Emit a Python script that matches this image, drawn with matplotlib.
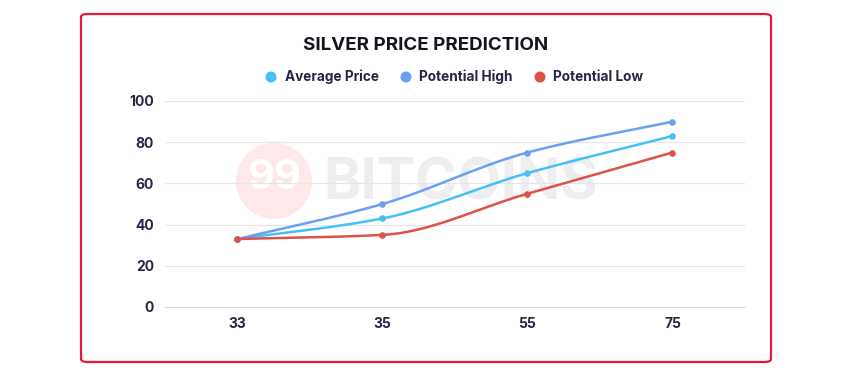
import numpy as np
import matplotlib
matplotlib.use("Agg")
import matplotlib.pyplot as plt
from matplotlib.patches import FancyBboxPatch, Ellipse

categories = ["33", "35", "55", "75"]
average_price = [33, 43, 65, 83]
potential_high = [33, 50, 75, 90]
potential_low = [33, 35, 55, 75]
y_ticks = [0, 20, 40, 60, 80, 100]

series = [
    ("Average Price", average_price, "#45c0f7"),
    ("Potential High", potential_high, "#6a9ff3"),
    ("Potential Low", potential_low, "#de5149"),
]

W, H = 853, 386

def monotone_curve(x, y, n=60):
    x = np.asarray(x, float); y = np.asarray(y, float)
    h = np.diff(x); d = np.diff(y) / h
    m = np.zeros_like(y)
    m[0] = d[0]; m[-1] = d[-1]
    for i in range(1, len(y) - 1):
        if d[i-1] * d[i] <= 0:
            m[i] = 0
        else:
            w1 = 2 * h[i] + h[i-1]; w2 = h[i] + 2 * h[i-1]
            m[i] = (w1 + w2) / (w1 / d[i-1] + w2 / d[i])
    xs, ys = [], []
    for i in range(len(x) - 1):
        t = np.linspace(0, 1, n)
        h00 = 2*t**3 - 3*t**2 + 1; h10 = t**3 - 2*t**2 + t
        h01 = -2*t**3 + 3*t**2; h11 = t**3 - t**2
        xs.append(x[i] + t * h[i])
        ys.append(h00*y[i] + h10*h[i]*m[i] + h01*y[i+1] + h11*h[i]*m[i+1])
    return np.concatenate(xs), np.concatenate(ys)

def circ(px, py, r, **kw):
    return Ellipse((px/W, 1-py/H), 2*r/W, 2*r/H, transform=fig.transFigure, **kw)

fig = plt.figure(figsize=(8.53, 3.86), dpi=100)
fig.patch.set_facecolor("white")

# border
border = FancyBboxPatch((81/W, 1-362/H), (771-81)/W, (362-14)/H,
                        boxstyle="round,pad=0,rounding_size=0.008",
                        transform=fig.transFigure, fill=False,
                        edgecolor="#e8173d", linewidth=1.6)
fig.patches.append(border)

ax = fig.add_axes([165/W, 1-307/H, 580/W, 206/H])
ax.set_zorder(2)
ax.set_xlim(-0.5, len(categories) - 0.5)
ax.set_ylim(0, 100)

# watermark
wm = circ(274, 181, 38, facecolor="#fde9e9", edgecolor="none", zorder=0.5)
fig.patches.append(wm)
fig.text(274/W, 1-178/H, "99", ha="center", va="center", fontsize=30,
         fontweight="bold", color="white", family="Inter", zorder=1)
fig.text(323/W, 1-185/H, "BITCOINS", ha="left", va="center", fontsize=41,
         fontweight="bold", color="#eeeef1", family="Inter", zorder=1)

xpos = np.arange(len(categories))
for name, vals, col in series:
    cx, cy = monotone_curve(xpos, vals)
    ax.plot(cx, cy, color=col, linewidth=1.8, zorder=3)
    ax.scatter(xpos, vals, color=col, s=14, zorder=4)

ax.set_xticks(xpos)
ax.set_xticklabels(categories)
ax.set_yticks(y_ticks)
ax.grid(axis="y", color="#e6e6ea", linewidth=0.9)
ax.set_axisbelow(True)
for s in ["top", "right", "left"]:
    ax.spines[s].set_visible(False)
ax.spines["bottom"].set_color("#dcdce2")
ax.tick_params(axis="both", length=0, labelsize=10, colors="#262645")
ax.tick_params(axis="y", pad=8)
ax.tick_params(axis="x", pad=7)
for lbl in ax.get_xticklabels() + ax.get_yticklabels():
    lbl.set_fontweight("bold")
    lbl.set_family("Inter")
ax.patch.set_alpha(0)

fig.text(426/W, 1-46/H, "SILVER PRICE PREDICTION", ha="center", va="center",
         fontsize=13.5, fontweight="bold", color="#15151f", family="Inter")

# legend
leg_items = [(271, 285, "Average Price", "#45c0f7"),
             (406, 419, "Potential High", "#6a9ff3"),
             (540, 553, "Potential Low", "#de5149")]
for mx, tx, name, col in leg_items:
    fig.patches.append(circ(mx, 77, 5.5, facecolor=col, edgecolor="none"))
    fig.text(tx/W, 1-77/H, name, ha="left", va="center", fontsize=9.8,
             fontweight="bold", color="#262645", family="Inter")

fig.savefig("out.png", dpi=100, facecolor="white")
